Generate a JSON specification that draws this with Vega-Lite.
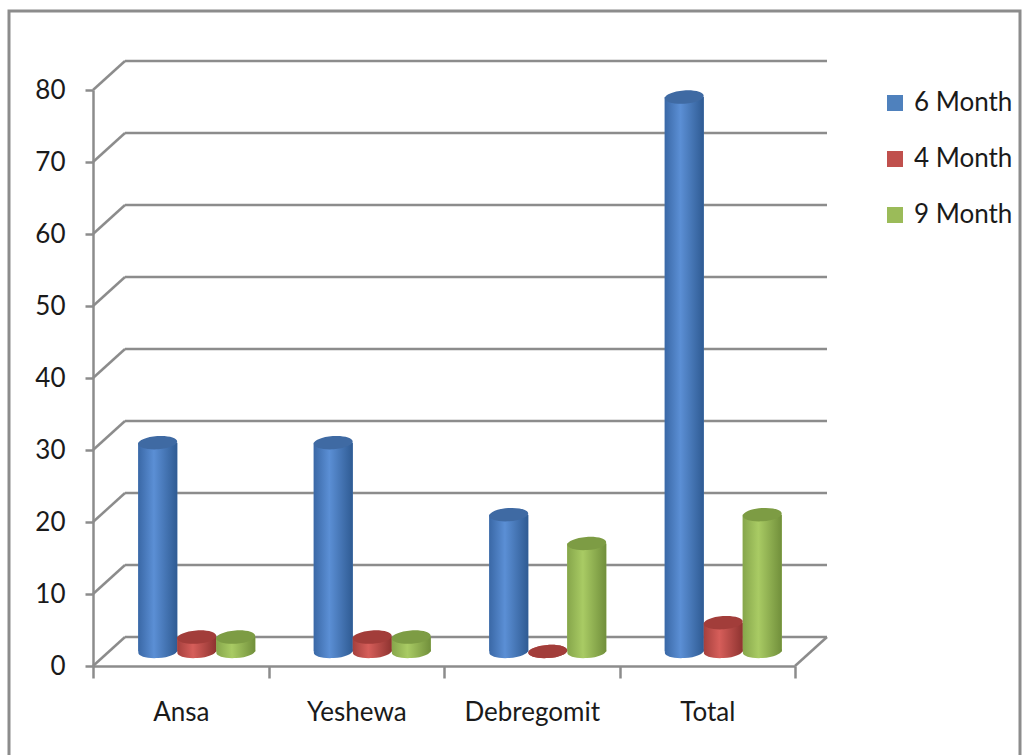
{
  "$schema": "https://vega.github.io/schema/vega-lite/v6.json",
  "width": 1011,
  "height": 747,
  "autosize": "none",
  "padding": {"left": 9, "top": 11, "right": 5, "bottom": -3},
  "background": "white",
  "config": {
    "view": {"stroke": "#8c8c8c", "strokeWidth": 3},
    "font": "Lato",
    "axis": {
      "title": null,
      "grid": false,
      "domainColor": "#8c8c8c",
      "domainWidth": 2.5,
      "tickColor": "#8c8c8c",
      "tickWidth": 2.5,
      "labelFont": "Lato",
      "labelFontSize": 26,
      "labelColor": "#1a1a1a"
    },
    "legend": {
      "labelFont": "Lato",
      "labelFontSize": 26,
      "labelColor": "#1a1a1a"
    }
  },
  "datasets": {
    "counts": [
      {"region": "Ansa", "series": "6 Month", "value": 29},
      {"region": "Ansa", "series": "4 Month", "value": 2},
      {"region": "Ansa", "series": "9 Month", "value": 2},
      {"region": "Yeshewa", "series": "6 Month", "value": 29},
      {"region": "Yeshewa", "series": "4 Month", "value": 2},
      {"region": "Yeshewa", "series": "9 Month", "value": 2},
      {"region": "Debregomit", "series": "6 Month", "value": 19},
      {"region": "Debregomit", "series": "4 Month", "value": 0},
      {"region": "Debregomit", "series": "9 Month", "value": 15},
      {"region": "Total", "series": "6 Month", "value": 77},
      {"region": "Total", "series": "4 Month", "value": 4},
      {"region": "Total", "series": "9 Month", "value": 19}
    ],
    "grid": [
      {"v": 0}, {"v": 10}, {"v": 20}, {"v": 30}, {"v": 40},
      {"v": 50}, {"v": 60}, {"v": 70}, {"v": 80}
    ],
    "floor": [{"v": 0}]
  },
  "resolve": {"scale": {"x": "independent"}, "axis": {"x": "independent"}},
  "layer": [
    {
      "description": "front axes, back wall and floor",
      "layer": [
        {
          "data": {"name": "grid"},
          "mark": {"type": "rule", "color": "#8c8c8c", "strokeWidth": 2.5, "xOffset": 32, "x2Offset": 32, "yOffset": -29},
          "encoding": {
            "x": {
              "datum": "Ansa", "type": "nominal", "bandPosition": 0,
              "scale": {"domain": ["Ansa", "Yeshewa", "Debregomit", "Total"], "range": [84, 786], "paddingInner": 0, "paddingOuter": 0},
              "axis": {"orient": "bottom", "offset": -92, "tickBand": "extent", "tickSize": 12, "labelAngle": 0, "labelPadding": 21}
            },
            "x2": {"datum": "Total", "bandPosition": 1},
            "y": {
              "field": "v", "type": "quantitative",
              "scale": {"domain": [0, 80], "range": [655, 79], "nice": false},
              "axis": {"orient": "left", "offset": -84, "values": [0, 10, 20, 30, 40, 50, 60, 70, 80], "tickSize": 8, "labelPadding": 20}
            }
          }
        },
        {
          "data": {"name": "grid"},
          "mark": {"type": "rule", "color": "#8c8c8c", "strokeWidth": 2.5, "x2Offset": 32, "y2Offset": -29},
          "encoding": {
            "x": {"datum": "Ansa", "type": "nominal", "bandPosition": 0},
            "x2": {"datum": "Ansa", "bandPosition": 0},
            "y": {"field": "v", "type": "quantitative"},
            "y2": {"field": "v"}
          }
        },
        {
          "data": {"name": "floor"},
          "mark": {"type": "rule", "color": "#8c8c8c", "strokeWidth": 2.5, "x2Offset": 32, "y2Offset": -29},
          "encoding": {
            "x": {"datum": "Total", "type": "nominal", "bandPosition": 1},
            "x2": {"datum": "Total", "bandPosition": 1},
            "y": {"field": "v", "type": "quantitative"},
            "y2": {"field": "v"}
          }
        }
      ]
    },
    {
      "description": "cylinders, standing halfway back on the floor",
      "data": {"name": "counts"},
      "encoding": {
        "x": {
          "field": "region", "type": "nominal",
          "scale": {"domain": ["Ansa", "Yeshewa", "Debregomit", "Total"], "range": [100, 802], "paddingInner": 0, "paddingOuter": 0},
          "axis": null
        },
        "xOffset": {
          "field": "series", "type": "nominal",
          "scale": {"domain": ["6 Month", "4 Month", "9 Month"], "paddingInner": 0, "paddingOuter": 0.75}
        }
      },
      "layer": [
        {
          "mark": {"type": "bar", "yOffset": -14.5, "y2Offset": -14.5},
          "encoding": {
            "y": {"field": "value", "type": "quantitative"},
            "color": {
              "field": "series", "type": "nominal",
              "scale": {"domain": ["6 Month", "4 Month", "9 Month"], "range": ["#4f81bd", "#c0504d", "#9bbb59"]},
              "legend": {
                "title": null, "orient": "none", "legendX": 873, "legendY": 79,
                "symbolType": "square", "symbolSize": 256, "symbolStrokeWidth": 0,
                "labelOffset": 6, "rowPadding": 30
              }
            }
          }
        },
        {
          "mark": {"type": "point", "filled": true, "opacity": 1, "size": 1521, "angle": -4, "strokeWidth": 0,
            "shape": "M-1,0A1,0.34,0,1,0,1,0A1,0.34,0,1,0,-1,0Z", "yOffset": -14.5},
          "encoding": {
            "y": {"datum": 0, "type": "quantitative"},
            "fill": {
              "condition": [
                {"test": "datum.series === '6 Month'", "value": {"gradient": "linear", "x1": 0, "y1": 0, "x2": 1, "y2": 0, "stops": [{"offset": 0, "color": "#3a68a6"}, {"offset": 0.4, "color": "#5b8fd5"}, {"offset": 1, "color": "#2f5b93"}]}},
                {"test": "datum.series === '4 Month'", "value": {"gradient": "linear", "x1": 0, "y1": 0, "x2": 1, "y2": 0, "stops": [{"offset": 0, "color": "#a5403d"}, {"offset": 0.4, "color": "#d65e5a"}, {"offset": 1, "color": "#8e3330"}]}}
              ],
              "value": {"gradient": "linear", "x1": 0, "y1": 0, "x2": 1, "y2": 0, "stops": [{"offset": 0, "color": "#86a64b"}, {"offset": 0.4, "color": "#a9cb64"}, {"offset": 1, "color": "#718f3b"}]}
            }
          }
        },
        {
          "mark": {"type": "bar", "yOffset": -14.5, "y2Offset": -14.5},
          "encoding": {
            "y": {"field": "value", "type": "quantitative"},
            "fill": {
              "condition": [
                {"test": "datum.series === '6 Month'", "value": {"gradient": "linear", "x1": 0, "y1": 0, "x2": 1, "y2": 0, "stops": [{"offset": 0, "color": "#3a68a6"}, {"offset": 0.4, "color": "#5b8fd5"}, {"offset": 1, "color": "#2f5b93"}]}},
                {"test": "datum.series === '4 Month'", "value": {"gradient": "linear", "x1": 0, "y1": 0, "x2": 1, "y2": 0, "stops": [{"offset": 0, "color": "#a5403d"}, {"offset": 0.4, "color": "#d65e5a"}, {"offset": 1, "color": "#8e3330"}]}}
              ],
              "value": {"gradient": "linear", "x1": 0, "y1": 0, "x2": 1, "y2": 0, "stops": [{"offset": 0, "color": "#86a64b"}, {"offset": 0.4, "color": "#a9cb64"}, {"offset": 1, "color": "#718f3b"}]}
            }
          }
        },
        {
          "mark": {"type": "point", "filled": true, "opacity": 1, "size": 1521, "angle": -4, "strokeWidth": 0,
            "shape": "M-1,0A1,0.34,0,1,0,1,0A1,0.34,0,1,0,-1,0Z", "yOffset": -14.5},
          "encoding": {
            "y": {"field": "value", "type": "quantitative"},
            "fill": {
              "field": "series", "type": "nominal",
              "scale": {"domain": ["6 Month", "4 Month", "9 Month"], "range": ["#3f6aa3", "#a23d3a", "#7d9c44"]},
              "legend": null
            }
          }
        }
      ]
    }
  ]
}
